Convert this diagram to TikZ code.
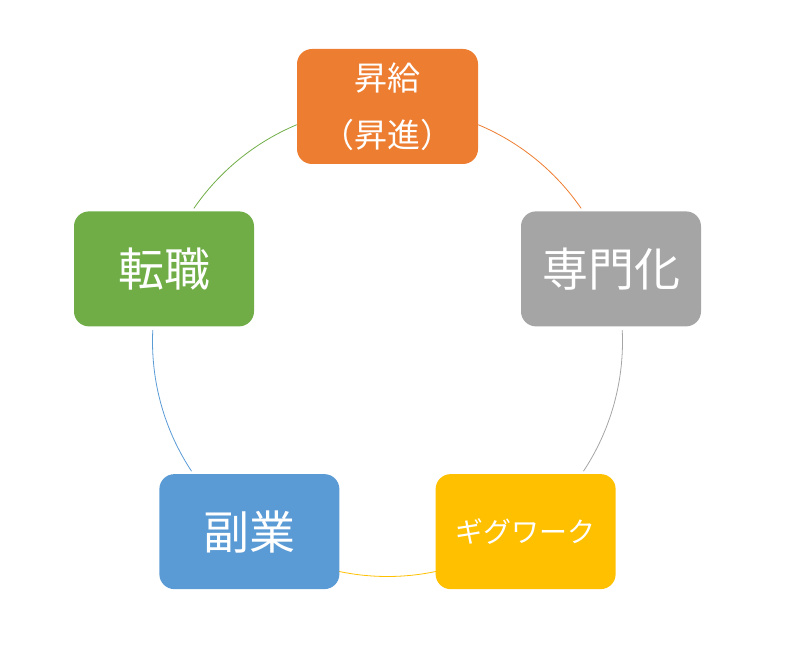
\documentclass[tikz,border=0pt]{standalone}
\usepackage{fontspec}
\setmainfont{Noto Sans CJK JP}
\definecolor{cOrange}{HTML}{ED7D31}
\definecolor{cGray}{HTML}{A5A5A5}
\definecolor{cYellow}{HTML}{FFC000}
\definecolor{cBlue}{HTML}{5B9BD5}
\definecolor{cGreen}{HTML}{70AD47}
\begin{document}
\begin{tikzpicture}[x=1pt,y=1pt,
  cbox/.style={rounded corners=15pt,minimum width=180pt,minimum height=115pt,inner sep=0pt,text=white,align=center},
  carc/.style={line width=0.8pt}]
\useasboundingbox (0,0) rectangle (795,665);
\coordinate (c) at (387.5,323.5);
\def\R{235}
% arcs
\draw[carc,cOrange] ([shift={(67.3:\R)}]c) arc[start angle=67.3,end angle=34.5,radius=\R];
\draw[carc,cGray] ([shift={(2.8:\R)}]c) arc[start angle=2.8,end angle=-33.5,radius=\R];
\draw[carc,cYellow] ([shift={(-78.1:\R)}]c) arc[start angle=-78.1,end angle=-101.9,radius=\R];
\draw[carc,cBlue] ([shift={(-146.5:\R)}]c) arc[start angle=-146.5,end angle=-182.8,radius=\R];
\draw[carc,cGreen] ([shift={(145.5:\R)}]c) arc[start angle=145.5,end angle=112.7,radius=\R];
% nodes
\node[cbox,fill=cOrange,minimum width=181pt,font=\fontsize{33}{57}\selectfont] (top) at ([shift={(90:\R)}]c) {昇給\\（昇進）};
\node[cbox,fill=cGray,font=\fontsize{46}{50}\selectfont] (right) at ([shift={(18:\R)}]c) {専門化};
\node[cbox,fill=cYellow,font=\fontsize{28}{32}\selectfont] (br) at ([shift={(-54:\R)}]c) {ギグワーク};
\node[cbox,fill=cBlue,font=\fontsize{46}{50}\selectfont] (bl) at ([shift={(-126:\R)}]c) {副業};
\node[cbox,fill=cGreen,font=\fontsize{46}{50}\selectfont] (left) at ([shift={(162:\R)}]c) {転職};
\end{tikzpicture}
\end{document}
